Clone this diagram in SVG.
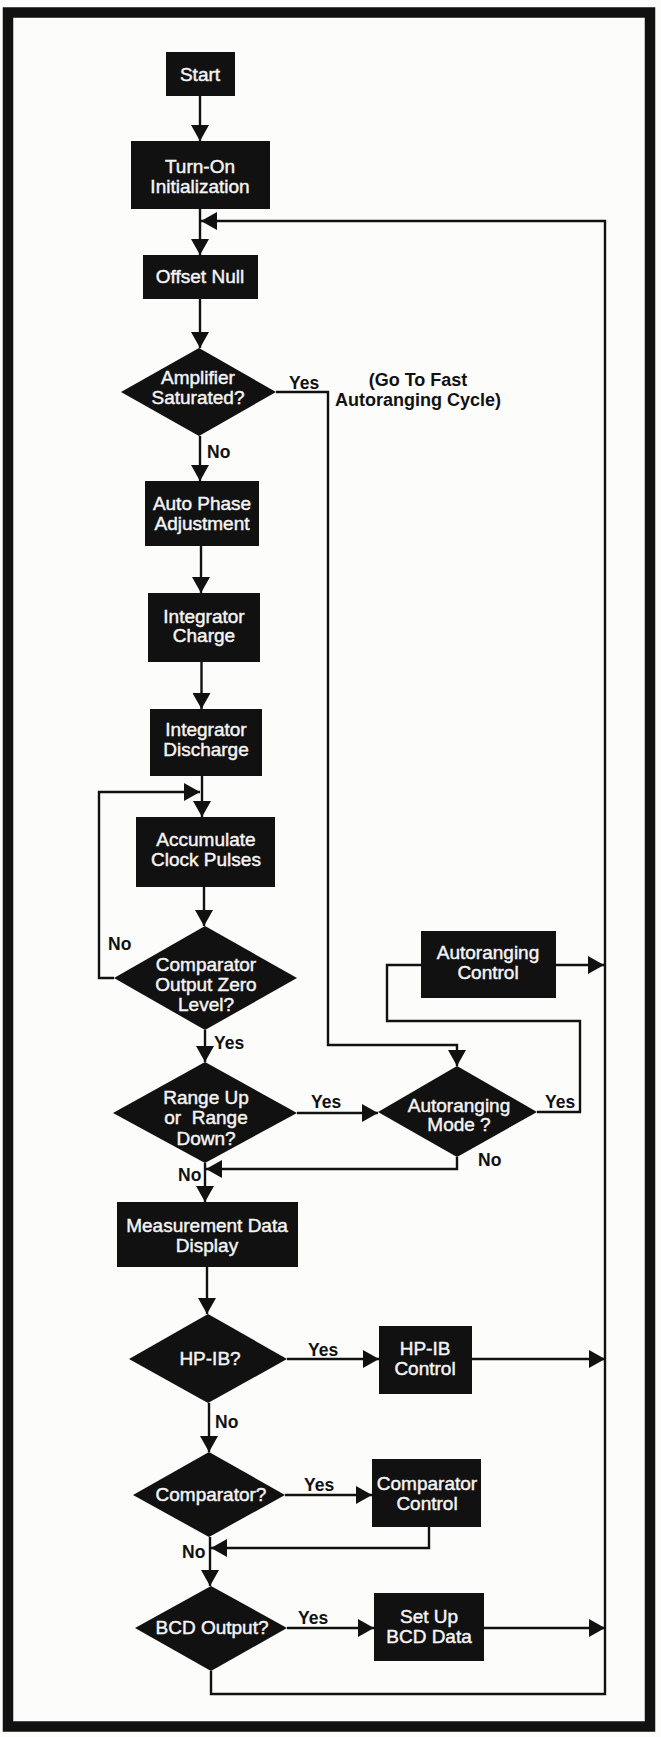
<svg xmlns="http://www.w3.org/2000/svg" width="661" height="1737" viewBox="0 0 661 1737">
<style>
.box{fill:#111;}
.dia{fill:#111;}
.t{font-family:"Liberation Sans",Arial,sans-serif;font-size:19px;fill:#f4f4f4;stroke:#f4f4f4;stroke-width:0.45;text-anchor:middle;}
.lbl{font-family:"Liberation Sans",Arial,sans-serif;font-size:17.5px;font-weight:bold;fill:#111;}
.note{font-family:"Liberation Sans",Arial,sans-serif;font-size:18px;font-weight:bold;fill:#111;text-anchor:middle;}
.c{fill:none;stroke:#111;stroke-width:2.4;}
</style>
<defs>
<marker id="ah" markerUnits="userSpaceOnUse" markerWidth="17" markerHeight="18" refX="16" refY="9" orient="auto">
<path d="M0,0 L16,9 L0,18 z" fill="#111"/>
</marker>
</defs>
<rect x="0" y="0" width="661" height="1737" fill="#fcfcfb"/>
<rect x="8" y="12.5" width="642" height="1714" fill="none" stroke="#111" stroke-width="10.5"/>

<g id="connectors">
<path class="c" d="M200,96 V141" marker-end="url(#ah)"/>
<path class="c" d="M200,209 V255" marker-end="url(#ah)"/>
<path class="c" d="M200,299 V348" marker-end="url(#ah)"/>
<path class="c" d="M200,436 V481" marker-end="url(#ah)"/>
<path class="c" d="M201,546 V593" marker-end="url(#ah)"/>
<path class="c" d="M201.5,662 V709" marker-end="url(#ah)"/>
<path class="c" d="M202,776 V817" marker-end="url(#ah)"/>
<path class="c" d="M114,978 H99 V792 H200" marker-end="url(#ah)"/>
<path class="c" d="M204,887 V926" marker-end="url(#ah)"/>
<path class="c" d="M205,1030 V1062" marker-end="url(#ah)"/>
<path class="c" d="M297,1113 H378" marker-end="url(#ah)"/>
<path class="c" d="M276,392 H328 V1045 H457 V1066" marker-end="url(#ah)"/>
<path class="c" d="M537,1112 H580 V1021 H387 V965 H421"/>
<path class="c" d="M556,965 H604" marker-end="url(#ah)"/>
<path class="c" d="M457,1157 V1169 H206" marker-end="url(#ah)"/>
<path class="c" d="M205,1163 V1202" marker-end="url(#ah)"/>
<path class="c" d="M207,1267 V1314" marker-end="url(#ah)"/>
<path class="c" d="M287,1359 H379" marker-end="url(#ah)"/>
<path class="c" d="M472,1359 H605" marker-end="url(#ah)"/>
<path class="c" d="M209,1403 V1452" marker-end="url(#ah)"/>
<path class="c" d="M285,1495 H372" marker-end="url(#ah)"/>
<path class="c" d="M429,1527 V1548 H211" marker-end="url(#ah)"/>
<path class="c" d="M210,1537 V1586" marker-end="url(#ah)"/>
<path class="c" d="M287,1628 H374" marker-end="url(#ah)"/>
<path class="c" d="M484,1628 H605" marker-end="url(#ah)"/>
<path class="c" d="M211,1671 V1694 H605 V221 H201" marker-end="url(#ah)"/>
</g>

<g id="start"><rect class="box" x="166" y="52" width="69" height="44"/><text class="t" x="200" y="81">Start</text></g>
<g id="turnon"><rect class="box" x="131" y="141" width="139" height="68"/><text class="t" x="200" y="173">Turn-On</text><text class="t" x="200" y="193">Initialization</text></g>
<g id="offset"><rect class="box" x="143" y="255" width="115" height="44"/><text class="t" x="200" y="283">Offset Null</text></g>
<g id="amp"><polygon class="dia" points="199,348 276,392 199,436 121,392"/><text class="t" x="198" y="384">Amplifier</text><text class="t" x="198" y="404">Saturated?</text></g>
<g id="autophase"><rect class="box" x="145" y="481" width="114" height="65"/><text class="t" x="202" y="510">Auto Phase</text><text class="t" x="202" y="530">Adjustment</text></g>
<g id="intcharge"><rect class="box" x="148" y="593" width="112" height="69"/><text class="t" x="204" y="623">Integrator</text><text class="t" x="204" y="642">Charge</text></g>
<g id="intdischarge"><rect class="box" x="150" y="709" width="112" height="67"/><text class="t" x="206" y="736">Integrator</text><text class="t" x="206" y="756">Discharge</text></g>
<g id="accumulate"><rect class="box" x="136" y="817" width="139" height="70"/><text class="t" x="206" y="846">Accumulate</text><text class="t" x="206" y="866">Clock Pulses</text></g>
<g id="compzero"><polygon class="dia" points="205,926 297,978 205,1030 114,978"/><text class="t" x="206" y="971">Comparator</text><text class="t" x="206" y="991">Output Zero</text><text class="t" x="206" y="1011">Level?</text></g>
<g id="range"><polygon class="dia" points="205,1062 297,1113 205,1163 113,1113"/><text class="t" x="206" y="1104">Range Up</text><text class="t" x="206" y="1124" xml:space="preserve">or  Range</text><text class="t" x="206" y="1145">Down?</text></g>
<g id="automode"><polygon class="dia" points="457,1066 537,1112 457,1157 378,1112"/><text class="t" x="459" y="1112">Autoranging</text><text class="t" x="459" y="1131">Mode ?</text></g>
<g id="autocontrol"><rect class="box" x="421" y="931" width="135" height="67"/><text class="t" x="488" y="959">Autoranging</text><text class="t" x="488" y="979">Control</text></g>
<g id="measure"><rect class="box" x="117" y="1202" width="181" height="65"/><text class="t" x="207" y="1232">Measurement Data</text><text class="t" x="207" y="1252">Display</text></g>
<g id="hpib"><polygon class="dia" points="208,1314 287,1359 208,1403 129,1359"/><text class="t" x="210" y="1365">HP-IB?</text></g>
<g id="hpibctl"><rect class="box" x="379" y="1326" width="93" height="68"/><text class="t" x="425" y="1355">HP-IB</text><text class="t" x="425" y="1375">Control</text></g>
<g id="comparator"><polygon class="dia" points="209,1452 285,1495 209,1537 133,1495"/><text class="t" x="211" y="1501">Comparator?</text></g>
<g id="compctl"><rect class="box" x="372" y="1459" width="109" height="68"/><text class="t" x="427" y="1490">Comparator</text><text class="t" x="427" y="1510">Control</text></g>
<g id="bcd"><polygon class="dia" points="211,1586 287,1628 211,1671 135,1628"/><text class="t" x="212" y="1634">BCD Output?</text></g>
<g id="setbcd"><rect class="box" x="374" y="1593" width="110" height="68"/><text class="t" x="429" y="1623">Set Up</text><text class="t" x="429" y="1643">BCD Data</text></g>

<g id="labels">
<text class="lbl" x="289" y="389">Yes</text>
<text class="note" x="418" y="386">(Go To Fast</text>
<text class="note" x="418" y="406">Autoranging Cycle)</text>
<text class="lbl" x="207" y="458">No</text>
<text class="lbl" x="108" y="950">No</text>
<text class="lbl" x="214" y="1049">Yes</text>
<text class="lbl" x="311" y="1108">Yes</text>
<text class="lbl" x="545" y="1108">Yes</text>
<text class="lbl" x="478" y="1166">No</text>
<text class="lbl" x="178" y="1181">No</text>
<text class="lbl" x="308" y="1356">Yes</text>
<text class="lbl" x="215" y="1428">No</text>
<text class="lbl" x="304" y="1491">Yes</text>
<text class="lbl" x="182" y="1558">No</text>
<text class="lbl" x="298" y="1624">Yes</text>
</g>
</svg>
